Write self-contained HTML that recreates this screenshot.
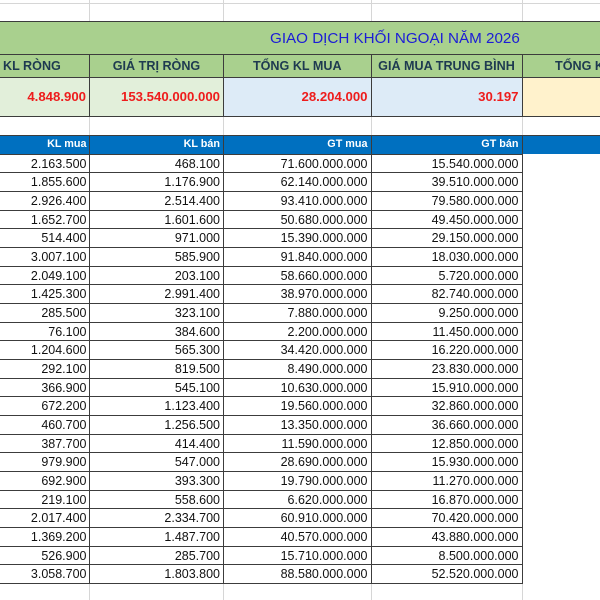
<!DOCTYPE html>
<html><head><meta charset="utf-8">
<style>
*{margin:0;padding:0;box-sizing:border-box}
html,body{width:600px;height:600px;overflow:hidden;background:#fff}
body{position:relative;font-family:"Liberation Sans",Arial,sans-serif;color:#111}
.gl{position:absolute;background:#d6d6d6}
.dl{position:absolute;background:#3c3c3c}
.title{position:absolute;left:0;top:21px;width:600px;height:33px;background:#a9d08e;border-top:1px solid #3c3c3c}
.title span{position:absolute;left:270px;top:0;line-height:33px;font-size:15.2px;color:#1c1cd6;white-space:nowrap}
.hdr{position:absolute;top:54px;height:23px;background:#a9d08e;line-height:24px;font-size:12.6px;font-weight:bold;color:#1e3a50;text-align:center;white-space:nowrap;overflow:hidden}
.val{position:absolute;top:77px;height:39px;line-height:40px;font-size:13.2px;font-weight:bold;color:#ee1c1c;text-align:right;padding-right:3.5px;white-space:nowrap}
.bh{position:absolute;left:0;top:135px;width:600px;height:19px;background:#0070c0;overflow:hidden}
.bh span{position:absolute;top:0;line-height:19px;font-size:10.8px;font-weight:bold;color:#fff;white-space:nowrap}
.r{position:absolute;left:0;width:522px;height:18.667px;line-height:19px;font-size:12.5px;border-top:1px solid #3c3c3c}
.r span{position:absolute;top:0;white-space:nowrap}
.a{right:435.5px}.b{right:302px}.c{right:154.5px}.d{right:3.5px}
</style></head><body>

<div class="gl" style="left:0;top:2.5px;width:600px;height:1px"></div>
<div class="gl" style="left:89px;top:0;width:1px;height:21px"></div>
<div class="gl" style="left:223px;top:0;width:1px;height:21px"></div>
<div class="gl" style="left:370.5px;top:0;width:1px;height:21px"></div>
<div class="gl" style="left:521.5px;top:0;width:1px;height:21px"></div>
<div class="gl" style="left:89px;top:116px;width:1px;height:19px"></div>
<div class="gl" style="left:223px;top:116px;width:1px;height:19px"></div>
<div class="gl" style="left:370.5px;top:116px;width:1px;height:19px"></div>
<div class="gl" style="left:521.5px;top:116px;width:1px;height:19px"></div>
<div class="gl" style="left:89px;top:584px;width:1px;height:16px"></div>
<div class="gl" style="left:223px;top:584px;width:1px;height:16px"></div>
<div class="gl" style="left:370.5px;top:584px;width:1px;height:16px"></div>
<div class="gl" style="left:521.5px;top:584px;width:1px;height:16px"></div>

<div class="title"><span>GIAO DỊCH KHỐI NGOẠI NĂM 2026</span></div>

<div class="hdr" style="left:0;width:89.5px;text-align:left;padding-left:3px">KL RÒNG</div>
<div class="hdr" style="left:89.5px;width:134px">GIÁ TRỊ RÒNG</div>
<div class="hdr" style="left:223.5px;width:147.5px">TỔNG KL MUA</div>
<div class="hdr" style="left:371px;width:151px">GIÁ MUA TRUNG BÌNH</div>
<div class="hdr" style="left:522px;width:78px;text-align:left;padding-left:33px">TỔNG KL BÁN</div>

<div class="val" style="left:0;width:89.5px;background:#e2efda">4.848.900</div>
<div class="val" style="left:89.5px;width:134px;background:#e2efda">153.540.000.000</div>
<div class="val" style="left:223.5px;width:147.5px;background:#ddebf7">28.204.000</div>
<div class="val" style="left:371px;width:151px;background:#ddebf7">30.197</div>
<div class="val" style="left:522px;width:78px;background:#fff2cc"></div>

<div class="dl" style="left:0;top:53.5px;width:600px;height:1px"></div>
<div class="dl" style="left:0;top:76.5px;width:600px;height:1px"></div>
<div class="dl" style="left:0;top:115.5px;width:600px;height:1px"></div>
<div class="dl" style="left:89px;top:54px;width:1px;height:62px"></div>
<div class="dl" style="left:223px;top:54px;width:1px;height:62px"></div>
<div class="dl" style="left:370.5px;top:54px;width:1px;height:62px"></div>
<div class="dl" style="left:521.5px;top:54px;width:1px;height:62px"></div>

<div class="bh">
<span style="right:513.5px">KL mua</span>
<span style="right:380px">KL bán</span>
<span style="right:232.5px">GT mua</span>
<span style="right:81.5px">GT bán</span>
</div>
<div class="dl" style="left:0;top:134.5px;width:600px;height:1px"></div>

<div class="r" style="top:153.5px"><span class="a">2.163.500</span><span class="b">468.100</span><span class="c">71.600.000.000</span><span class="d">15.540.000.000</span></div>
<div class="r" style="top:172.17px"><span class="a">1.855.600</span><span class="b">1.176.900</span><span class="c">62.140.000.000</span><span class="d">39.510.000.000</span></div>
<div class="r" style="top:190.83px"><span class="a">2.926.400</span><span class="b">2.514.400</span><span class="c">93.410.000.000</span><span class="d">79.580.000.000</span></div>
<div class="r" style="top:209.5px"><span class="a">1.652.700</span><span class="b">1.601.600</span><span class="c">50.680.000.000</span><span class="d">49.450.000.000</span></div>
<div class="r" style="top:228.17px"><span class="a">514.400</span><span class="b">971.000</span><span class="c">15.390.000.000</span><span class="d">29.150.000.000</span></div>
<div class="r" style="top:246.83px"><span class="a">3.007.100</span><span class="b">585.900</span><span class="c">91.840.000.000</span><span class="d">18.030.000.000</span></div>
<div class="r" style="top:265.5px"><span class="a">2.049.100</span><span class="b">203.100</span><span class="c">58.660.000.000</span><span class="d">5.720.000.000</span></div>
<div class="r" style="top:284.17px"><span class="a">1.425.300</span><span class="b">2.991.400</span><span class="c">38.970.000.000</span><span class="d">82.740.000.000</span></div>
<div class="r" style="top:302.83px"><span class="a">285.500</span><span class="b">323.100</span><span class="c">7.880.000.000</span><span class="d">9.250.000.000</span></div>
<div class="r" style="top:321.5px"><span class="a">76.100</span><span class="b">384.600</span><span class="c">2.200.000.000</span><span class="d">11.450.000.000</span></div>
<div class="r" style="top:340.17px"><span class="a">1.204.600</span><span class="b">565.300</span><span class="c">34.420.000.000</span><span class="d">16.220.000.000</span></div>
<div class="r" style="top:358.83px"><span class="a">292.100</span><span class="b">819.500</span><span class="c">8.490.000.000</span><span class="d">23.830.000.000</span></div>
<div class="r" style="top:377.5px"><span class="a">366.900</span><span class="b">545.100</span><span class="c">10.630.000.000</span><span class="d">15.910.000.000</span></div>
<div class="r" style="top:396.17px"><span class="a">672.200</span><span class="b">1.123.400</span><span class="c">19.560.000.000</span><span class="d">32.860.000.000</span></div>
<div class="r" style="top:414.83px"><span class="a">460.700</span><span class="b">1.256.500</span><span class="c">13.350.000.000</span><span class="d">36.660.000.000</span></div>
<div class="r" style="top:433.5px"><span class="a">387.700</span><span class="b">414.400</span><span class="c">11.590.000.000</span><span class="d">12.850.000.000</span></div>
<div class="r" style="top:452.17px"><span class="a">979.900</span><span class="b">547.000</span><span class="c">28.690.000.000</span><span class="d">15.930.000.000</span></div>
<div class="r" style="top:470.83px"><span class="a">692.900</span><span class="b">393.300</span><span class="c">19.790.000.000</span><span class="d">11.270.000.000</span></div>
<div class="r" style="top:489.5px"><span class="a">219.100</span><span class="b">558.600</span><span class="c">6.620.000.000</span><span class="d">16.870.000.000</span></div>
<div class="r" style="top:508.17px"><span class="a">2.017.400</span><span class="b">2.334.700</span><span class="c">60.910.000.000</span><span class="d">70.420.000.000</span></div>
<div class="r" style="top:526.83px"><span class="a">1.369.200</span><span class="b">1.487.700</span><span class="c">40.570.000.000</span><span class="d">43.880.000.000</span></div>
<div class="r" style="top:545.5px"><span class="a">526.900</span><span class="b">285.700</span><span class="c">15.710.000.000</span><span class="d">8.500.000.000</span></div>
<div class="r" style="top:564.17px"><span class="a">3.058.700</span><span class="b">1.803.800</span><span class="c">88.580.000.000</span><span class="d">52.520.000.000</span></div>
<div class="dl" style="left:0;top:582.83px;width:522px;height:1px"></div>

<div class="dl" style="left:89px;top:135px;width:1px;height:448.5px"></div>
<div class="dl" style="left:223px;top:135px;width:1px;height:448.5px"></div>
<div class="dl" style="left:370.5px;top:135px;width:1px;height:448.5px"></div>
<div class="dl" style="left:521.5px;top:135px;width:1px;height:448.5px"></div>

</body></html>
